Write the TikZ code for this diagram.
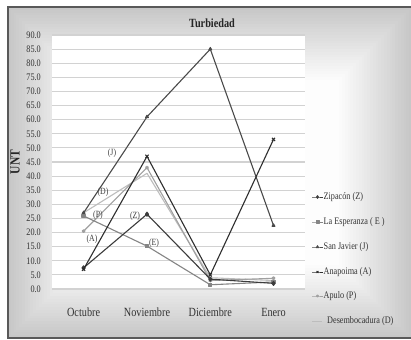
\documentclass[tikz,border=0pt]{standalone}
\usepackage{fontspec}
\setmainfont{Liberation Serif}[FakeStretch=0.82]
\usetikzlibrary{plotmarks}
\definecolor{cZ}{HTML}{3C3C3C}
\definecolor{cE}{HTML}{858585}
\definecolor{cJ}{HTML}{4A4A4A}
\definecolor{cA}{HTML}{2E2E2E}
\definecolor{cP}{HTML}{A0A0A0}
\definecolor{cD}{HTML}{BDBDBD}
\tikzset{
  ser/.style={line width=1.1pt, line join=round},
  zser/.style={ser, color=cZ, mark=diamond*, mark size=2pt},
  eser/.style={ser, color=cE, mark=square*, mark size=1.6pt},
  jser/.style={ser, color=cJ, mark=triangle*, mark size=1.6pt},
  aser/.style={ser, color=cA, mark=x, mark size=2.2pt},
  pser/.style={ser, color=cP, mark=asterisk, mark size=1.8pt},
  dser/.style={ser, color=cD},
  legline/.style={line width=0.8pt, mark size=1.4pt, mark indices={2}},
  ytick/.style={anchor=east, inner sep=0pt, font=\fontsize{10}{10}\selectfont, text=black!80},
  cat/.style={inner sep=0pt, font=\fontsize{12.5}{12.5}\selectfont, text=black!80},
  leg/.style={anchor=west, inner sep=0pt, font=\fontsize{10}{10}\selectfont, text=black!80},
  lab/.style={inner sep=0pt, font=\fontsize{9.5}{9.5}\selectfont, text=black!75},
}
\begin{document}
\begin{tikzpicture}[x=1pt,y=-1pt]
\useasboundingbox (0,0) rectangle (411,339);
\fill[white] (0,0) rectangle (411,339);
% background gradient of chart area
\foreach \i in {0,...,26}{
  \pgfmathsetmacro\c{44-1.65*\i}
  \pgfmathsetmacro\d{2.8*\i}
  \fill[gray!\c] (8+\d,7+\d) rectangle (412-\d,338-\d);
}
\draw[gray!70!black, line width=1.2pt] (8,7) rectangle (413,338);
% plot area
\fill[white] (52,35) rectangle (305,289);
\begin{scope}[yshift=-289pt, y=2.8222pt]
  \foreach \v in {0,5,...,90}{
    \draw[gray!35, line width=1.1pt] (52,\v) -- (305,\v);
    \node[ytick] (yt\v) at (41,\v) {\v.0};
  }
  \draw[dser] plot coordinates {(83.6,27) (147,41) (210.3,4.0) (273.5,3.0)};
  \draw[pser] plot coordinates {(83.6,20.5) (147,43) (210.3,3.0) (273.5,3.8)};
  \draw[eser] plot coordinates {(83.6,25.9) (147,15.2) (210.3,1.5) (273.5,2.5)};
  \draw[jser] plot coordinates {(83.6,27) (147,61) (210.3,85) (273.5,22.5)};
  \draw[zser] plot coordinates {(83.6,7.5) (147,26.5) (210.3,3.5) (273.5,2.0)};
  \draw[aser] plot coordinates {(83.6,7.0) (147,47) (210.3,5.0) (273.5,53)};
\end{scope}
% labels in plot
\node[lab] (lJ) at (112,153) {(J)};
\node[lab] (lD) at (103,192) {(D)};
\node[lab] (lP) at (98,215) {(P)};
\node[lab] (lA) at (92,239) {(A)};
\node[lab] (lZ) at (135,216) {(Z)};
\node[lab] (lE) at (154,243) {(E)};
% title and axis title
\node[font=\bfseries\fontsize{12.5}{12.5}\selectfont, text=black!85] (title) at (212,23) {Turbiedad};
\node[font=\bfseries\fontsize{14}{14}\selectfont, text=black!85, rotate=90] (unt) at (15,162) {UNT};
% categories
\node[cat] (c1) at (83.6,312) {Octubre};
\node[cat] (c2) at (147,312) {Noviembre};
\node[cat] (c3) at (210.3,312) {Diciembre};
\node[cat] (c4) at (273.5,312) {Enero};
% legend
\draw[zser, legline] plot coordinates {(312,197) (317.5,197) (323,197)};
\node[leg] (gZ) at (323.5,197) {Zipacón (Z)};
\draw[eser, legline] plot coordinates {(312,222) (317.5,222) (323,222)};
\node[leg] (gE) at (323.5,222) {La Esperanza ( E )};
\draw[jser, legline] plot coordinates {(312,247) (317.5,247) (323,247)};
\node[leg] (gJ) at (323.5,247) {San Javier (J)};
\draw[aser, legline] plot coordinates {(312,272) (317.5,272) (323,272)};
\node[leg] (gA) at (323.5,272) {Anapoima (A)};
\draw[pser, legline] plot coordinates {(312,296) (317.5,296) (323,296)};
\node[leg] (gP) at (323.5,296) {Apulo (P)};
\draw[dser, legline] (312,321) -- (322,321);
\node[leg] (gD) at (327,321) {Desembocadura (D)};
\end{tikzpicture}
\end{document}
